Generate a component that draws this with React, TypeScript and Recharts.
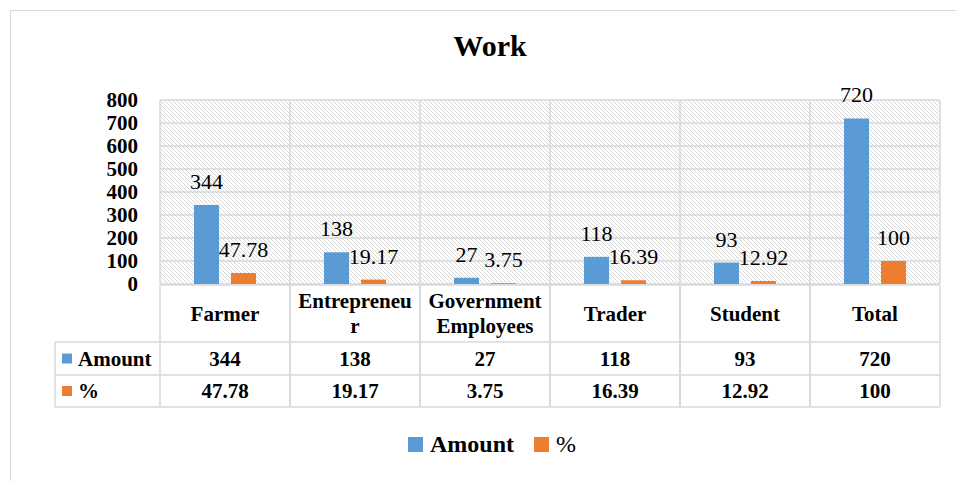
import { Bar, BarChart, CartesianGrid, LabelList, XAxis, YAxis } from "recharts";

// 职业分布：柱状图 + 下方 Excel 风格数据表
const CATEGORIES = ["Farmer", "Entrepreneur", "Government Employees", "Trader", "Student", "Total"];
// 表头里按原图折行
const CATEGORY_LINES = [
  ["Farmer"],
  ["Entrepreneu", "r"],
  ["Government", "Employees"],
  ["Trader"],
  ["Student"],
  ["Total"],
];
const AMOUNT = [344, 138, 27, 118, 93, 720];
const PERCENT = [47.78, 19.17, 3.75, 16.39, 12.92, 100];
const Y_TICKS = [0, 100, 200, 300, 400, 500, 600, 700, 800];

const SERIES = [
  { key: "amount", name: "Amount", color: "#5B9BD5", values: AMOUNT },
  { key: "percent", name: "%", color: "#ED7D31", values: PERCENT },
];

const data = CATEGORIES.map((c, i) => ({
  category: c,
  amount: AMOUNT[i],
  percent: PERCENT[i],
}));

const FONT = "Liberation Serif, Times New Roman, serif";
const W = 956;
const H = 481;
const MARGIN = { top: 100, right: 16, bottom: 74, left: 100 };
const Y_AXIS_W = 60;
const BAND = (W - MARGIN.left - Y_AXIS_W - MARGIN.right) / CATEGORIES.length;
const GRID = "#d9d9d9";
const HATCH = "#d8d8d8";

// 每个分类的表格列：表头 + Amount + %
function TableColumn(props: any) {
  const { x, y, payload } = props;
  const i = payload.index;
  const x0 = x - BAND / 2;
  const x1 = x + BAND / 2;
  const top = y + 1;
  const r1 = top + 57;
  const r2 = r1 + 33;
  const r3 = r2 + 32;
  const lines = CATEGORY_LINES[i];
  const headMid = (top + r1) / 2 - ((lines.length - 1) * 25) / 2;
  const txt = { fontFamily: FONT, fontSize: 21, fontWeight: 700, fill: "#000", textAnchor: "middle" as const };

  return (
    <g>
      {i === 0 && (
        <g>
          <line x1={x0 - 105} y1={r1} x2={x0} y2={r1} stroke={GRID} strokeWidth={1.5} />
          <line x1={x0 - 105} y1={r2} x2={x0} y2={r2} stroke={GRID} strokeWidth={1.5} />
          <line x1={x0 - 105} y1={r3} x2={x0} y2={r3} stroke={GRID} strokeWidth={1.5} />
          <line x1={x0 - 105} y1={r1} x2={x0 - 105} y2={r3} stroke={GRID} strokeWidth={1.5} />
          {SERIES.map((s, k) => {
            const cy = k === 0 ? (r1 + r2) / 2 : (r2 + r3) / 2;
            return (
              <g key={s.key}>
                <rect x={x0 - 98} y={cy - 5} width={10} height={10} fill={s.color} />
                <text x={x0 - 82} y={cy} dy="0.35em" {...txt} textAnchor="start">
                  {s.name}
                </text>
              </g>
            );
          })}
        </g>
      )}
      <line x1={x0} y1={top} x2={x1} y2={top} stroke={GRID} strokeWidth={1.5} />
      <line x1={x0} y1={r1} x2={x1} y2={r1} stroke={GRID} strokeWidth={1.5} />
      <line x1={x0} y1={r2} x2={x1} y2={r2} stroke={GRID} strokeWidth={1.5} />
      <line x1={x0} y1={r3} x2={x1} y2={r3} stroke={GRID} strokeWidth={1.5} />
      <line x1={x0} y1={top} x2={x0} y2={r3} stroke={GRID} strokeWidth={1.5} />
      <line x1={x1} y1={top} x2={x1} y2={r3} stroke={GRID} strokeWidth={1.5} />
      {lines.map((l, k) => (
        <text key={k} x={x} y={headMid + k * 25} dy="0.35em" {...txt}>
          {l}
        </text>
      ))}
      <text x={x} y={(r1 + r2) / 2} dy="0.35em" {...txt}>
        {AMOUNT[i]}
      </text>
      <text x={x} y={(r2 + r3) / 2} dy="0.35em" {...txt}>
        {PERCENT[i]}
      </text>
    </g>
  );
}

function YTick(props: any) {
  const { x, y, payload } = props;
  return (
    <text x={x} y={y} dy="0.35em" textAnchor="end" fontFamily={FONT} fontSize={21} fontWeight={700} fill="#000">
      {payload.value}
    </text>
  );
}

function ValueLabel(props: any) {
  const { x, y, width, value } = props;
  return (
    <text x={x + width / 2} y={y - 16} textAnchor="middle" fontFamily={FONT} fontSize={22} fill="#000">
      {value}
    </text>
  );
}

export default function App() {
  return (
    <div
      style={{
        position: "absolute",
        left: 0,
        top: 0,
        width: W,
        height: H,
        background: "#fff",
        fontFamily: FONT,
        overflow: "hidden",
      }}
    >
      <svg width={0} height={0} style={{ position: "absolute" }}>
        <defs>
          {/* 像素级的 "\" 斜线底纹 */}
          <pattern id="hatch" width={4} height={4} patternUnits="userSpaceOnUse">
            <rect x={0} y={0} width={1} height={1} fill={HATCH} />
            <rect x={1} y={1} width={1} height={1} fill={HATCH} />
            <rect x={2} y={2} width={1} height={1} fill={HATCH} />
            <rect x={3} y={3} width={1} height={1} fill={HATCH} />
          </pattern>
        </defs>
      </svg>
      <div
        style={{
          position: "absolute",
          left: 10,
          top: 10,
          width: 960,
          height: 480,
          border: "1.5px solid #d9d9d9",
        }}
      />
      <div
        style={{
          position: "absolute",
          top: 30,
          left: 0,
          width: 980,
          textAlign: "center",
          fontSize: 30,
          fontWeight: 700,
          lineHeight: "32px",
        }}
      >
        Work
      </div>
      <div style={{ position: "absolute", left: 0, top: 0 }}>
        <BarChart width={W} height={H} data={data} margin={MARGIN} barSize={25} barGap={12}>
          <CartesianGrid
            fill="url(#hatch)"
            stroke={GRID}
            strokeWidth={1.5}
            verticalCoordinatesGenerator={({ offset }: any) =>
              CATEGORIES.map((_, i) => offset.left + (i * offset.width) / CATEGORIES.length).concat(
                offset.left + offset.width
              )
            }
          />
          <XAxis
            dataKey="category"
            height={123}
            interval={0}
            axisLine={false}
            tickLine={false}
            tickSize={0}
            tickMargin={0}
            tick={<TableColumn />}
          />
          <YAxis
            width={Y_AXIS_W}
            domain={[0, 800]}
            ticks={Y_TICKS}
            axisLine={false}
            tickLine={false}
            tickSize={0}
            tickMargin={22}
            interval={0}
            tick={<YTick />}
          />
          {SERIES.map((s) => (
            <Bar key={s.key} dataKey={s.key} name={s.name} fill={s.color} isAnimationActive={false}>
              <LabelList dataKey={s.key} content={<ValueLabel />} />
            </Bar>
          ))}
        </BarChart>
      </div>
      <div
        style={{
          position: "absolute",
          top: 430,
          left: 408,
          display: "flex",
          alignItems: "center",
          fontSize: 24,
          lineHeight: "28px",
        }}
      >
        {SERIES.map((s, k) => (
          <div key={s.key} style={{ display: "flex", alignItems: "center", marginRight: k === 0 ? 20 : 0 }}>
            <span style={{ display: "inline-block", width: 15, height: 15, background: s.color, marginRight: 7 }} />
            <span style={{ fontWeight: k === 0 ? 700 : 400 }}>{s.name}</span>
          </div>
        ))}
      </div>
    </div>
  );
}
